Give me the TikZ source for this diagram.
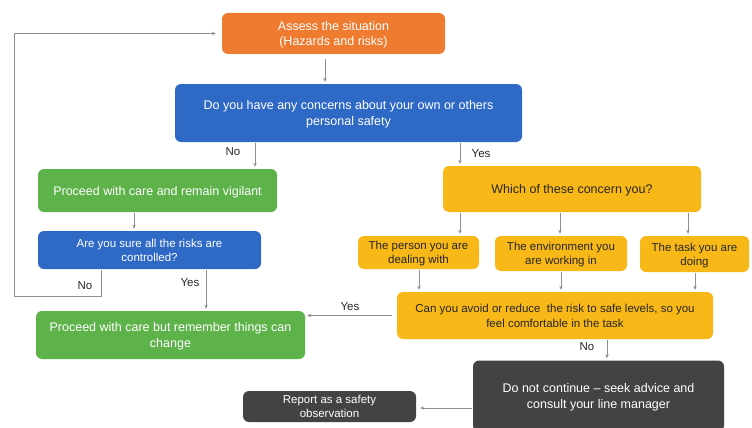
\documentclass[tikz,border=0pt]{standalone}
\usepackage{fontspec}
\setmainfont{Liberation Sans}
\usetikzlibrary{arrows.meta}
\definecolor{corange}{HTML}{EF7B30}
\definecolor{cblue}{HTML}{2F69C6}
\definecolor{cgreen}{HTML}{5EB24A}
\definecolor{cyellow}{HTML}{F8B817}
\definecolor{cdark}{HTML}{414345}
\definecolor{carrow}{HTML}{8E8E8E}
\definecolor{ctext}{HTML}{262626}
\tikzset{
  box/.style={rectangle, rounded corners=6pt, align=center, inner sep=2pt, text depth=0pt,
    font=\fontsize{12.5}{15.5}\selectfont},
  obox/.style={box, fill=corange, text=white},
  bbox/.style={box, fill=cblue, text=white},
  gbox/.style={box, fill=cgreen, text=white},
  ybox/.style={box, fill=cyellow, text=ctext},
  dbox/.style={box, fill=cdark, text=white},
  arr/.style={draw=carrow, line width=0.8pt, -{Stealth[length=4pt,width=3.5pt]},
    shorten <=1pt, shorten >=2pt},
  lbl/.style={font=\fontsize{11.5}{13}\selectfont, text=ctext, inner sep=1pt}
}
\begin{document}
\begin{tikzpicture}[x=1pt,y=-1pt]
\useasboundingbox (0,0) rectangle (752,428);
\fill[white] (0,0) rectangle (752,428);

\node[obox, minimum width=223pt, minimum height=41pt] (assess) at (333.5,33.5) {Assess the situation\\(Hazards and risks)};
\node[bbox, minimum width=347pt, minimum height=58pt] (concern) at (348.5,113) {Do you have any concerns about your own or others\\personal safety};
\node[gbox, minimum width=239pt, minimum height=43pt] (vigil) at (157.5,190.5) {Proceed with care and remain vigilant};
\node[ybox, minimum width=258pt, minimum height=46pt] (which) at (572,189) {Which of these concern you?};
\node[bbox, minimum width=223pt, minimum height=38pt, font=\fontsize{11.5}{14}\selectfont] (sure) at (149.5,250) {Are you sure all the risks are\\controlled?};
\node[ybox, minimum width=121pt, minimum height=33pt, font=\fontsize{11.5}{14}\selectfont] (person) at (418.5,252.5) {The person you are\\dealing with};
\node[ybox, minimum width=132pt, minimum height=35pt, font=\fontsize{11.5}{14}\selectfont] (env) at (561,253.5) {The environment you\\are working in};
\node[ybox, minimum width=109pt, minimum height=36pt, font=\fontsize{11.5}{14}\selectfont] (task) at (694.5,254) {The task you are\\doing};
\node[ybox, minimum width=316pt, minimum height=47pt, font=\fontsize{11.5}{15}\selectfont] (avoid) at (555,315.5) {Can you avoid or reduce\ \ the risk to safe levels, so you\\feel comfortable in the task};
\node[gbox, minimum width=269pt, minimum height=48pt] (change) at (170.5,335) {Proceed with care but remember things can\\change};
\node[dbox, minimum width=251pt, minimum height=71pt] (stop) at (598.5,396) {Do not continue -- seek advice and\\consult your line manager};
\node[dbox, minimum width=173pt, minimum height=31pt, font=\fontsize{11.5}{13.5}\selectfont] (report) at (329.5,406.5) {Report as a safety\\observation};

\coordinate (loopbl) at (14,296);

% arrows
\draw[arr, shorten <=5pt] ([xshift=-8.5pt]assess.south) -- ([xshift=-8.5pt]assess.south |- concern.north);
\draw[arr] ([xshift=-93.5pt]concern.south) -- ([xshift=97.5pt]vigil.north);
\draw[arr] ([xshift=111.5pt]concern.south) -- ([xshift=-112pt]which.north);
\draw[arr] ([xshift=-112pt]which.south) -- ([xshift=41.5pt]person.north);
\draw[arr] ([xshift=-12pt]which.south) -- ([xshift=-1pt]env.north);
\draw[arr] ([xshift=116pt]which.south) -- ([xshift=-6.5pt]task.north);
\draw[arr] ([xshift=-23.5pt]vigil.south) -- ([xshift=-15.5pt]sure.north);
\draw[arr, shorten >=6pt] ([xshift=-48.5pt]sure.south) |- (loopbl) |- (assess.west);
\draw[arr] ([xshift=56.5pt]sure.south) -- ([xshift=35.5pt]change.north);
\draw[arr] ([xshift=0.5pt]person.south) -- ([xshift=-136pt]avoid.north);
\draw[arr] (env.south) -- ([xshift=6pt]avoid.north);
\draw[arr] ([xshift=0.5pt]task.south) -- ([xshift=140pt]avoid.north);
\draw[arr, shorten <=5pt] (avoid.west) -- (avoid.west -| change.east);
\draw[arr] ([xshift=52pt]avoid.south) -- ([xshift=8.5pt]stop.north);
\draw[arr, shorten >=4pt] ([yshift=-1.5pt]stop.west |- report.east) -- ([yshift=-1.5pt]report.east);

% labels
\node[lbl] (lno1) at (233,152) {No};
\node[lbl] (lyes1) at (481,154) {Yes};
\node[lbl] (lno2) at (85,286) {No};
\node[lbl] (lyes2) at (190,283) {Yes};
\node[lbl] (lyes3) at (350,307) {Yes};
\node[lbl] (lno3) at (587,347) {No};
\end{tikzpicture}
\end{document}
